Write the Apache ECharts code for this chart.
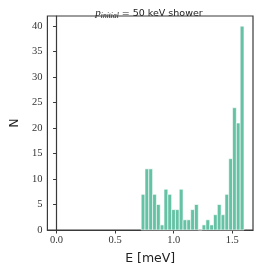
<!DOCTYPE html>
<html><head><meta charset="utf-8">
<script src="https://cdn.jsdelivr.net/npm/echarts@6/dist/echarts.min.js"></script>
<style>html,body{margin:0;padding:0;background:#fff}#c{width:258px;height:270px}</style>
</head><body><div id="c"></div>
<script>
// Histogram of E [meV]: bin range and counts per bin
const binLo = 0.7225;
const binHi = 1.6;
const counts = [7, 12, 12, 7, 5, 1, 8, 7, 4, 4, 8, 2, 2, 4, 5, 0, 1, 2, 1, 3, 5, 3, 7, 14, 24, 21, 40];
const xTicks = [0.0, 0.5, 1.0, 1.5];
const yTicks = [0, 5, 10, 15, 20, 25, 30, 35, 40];

const w = (binHi - binLo) / counts.length;
const data = counts.map((n, i) => [i, binLo + i * w, binLo + (i + 1) * w, n]);

const chart = echarts.init(document.getElementById('c'), null, {renderer: 'canvas'});
const serif = 'Liberation Serif';
chart.setOption({
  animation: false,
  title: {
    text: '{m|p}{s|initial}{t| = 50 keV shower}',
    left: 144, top: 2, textAlign: 'center',
    textStyle: {
      fontWeight: 'normal',
      rich: {
        m: {fontFamily: serif, fontStyle: 'italic', fontWeight: 'normal', fontSize: 11, color: '#222'},
        s: {fontFamily: serif, fontStyle: 'italic', fontWeight: 'normal', fontSize: 7.5, color: '#222', padding: [5, 0, 0, 0]},
        t: {fontFamily: 'DejaVu Sans', fontWeight: 'normal', fontSize: 9.5, color: '#222'}
      }
    }
  },
  grid: {left: 36, right: 5, top: 16, bottom: 37, show: true, borderColor: '#3a3a3a', borderWidth: 1.2, backgroundColor: '#fff'},
  xAxis: {
    type: 'value', min: -0.078, max: 1.677,
    name: 'E [meV]', nameLocation: 'middle', nameGap: 22,
    nameTextStyle: {fontFamily: 'DejaVu Sans', fontSize: 12.5, color: '#222'},
    axisLine: {show: true, lineStyle: {color: '#3a3a3a', width: 1.2}},
    axisTick: {show: true, length: 3.5, lineStyle: {color: '#3a3a3a'}, customValues: xTicks},
    axisLabel: {fontFamily: serif, fontSize: 10.5, color: '#333', margin: 5,
      customValues: xTicks, formatter: v => v.toFixed(1)},
    splitLine: {show: false}
  },
  yAxis: {
    type: 'value', min: 0, max: 42,
    name: 'N', nameLocation: 'middle', nameGap: 22, nameRotate: 90,
    nameTextStyle: {fontFamily: 'DejaVu Sans', fontSize: 12.5, color: '#222'},
    axisLine: {show: true, lineStyle: {color: '#3a3a3a', width: 1.2}},
    axisTick: {show: true, length: 3.5, lineStyle: {color: '#3a3a3a'}, customValues: yTicks},
    axisLabel: {fontFamily: serif, fontSize: 10.5, color: '#333', margin: 5, customValues: yTicks},
    splitLine: {show: false}
  },
  series: [{
    type: 'custom',
    data: data,
    encode: {x: [1, 2], y: 3},
    renderItem: function (params, api) {
      const p0 = api.coord([api.value(1), api.value(3)]);
      const p1 = api.coord([api.value(2), 0]);
      return {
        type: 'rect',
        shape: {x: p0[0], y: p0[1], width: p1[0] - p0[0], height: p1[1] - p0[1]},
        style: {fill: '#66c2a5', stroke: '#ffffff', lineWidth: 0.6}
      };
    }
  }]
});
</script></body></html>
